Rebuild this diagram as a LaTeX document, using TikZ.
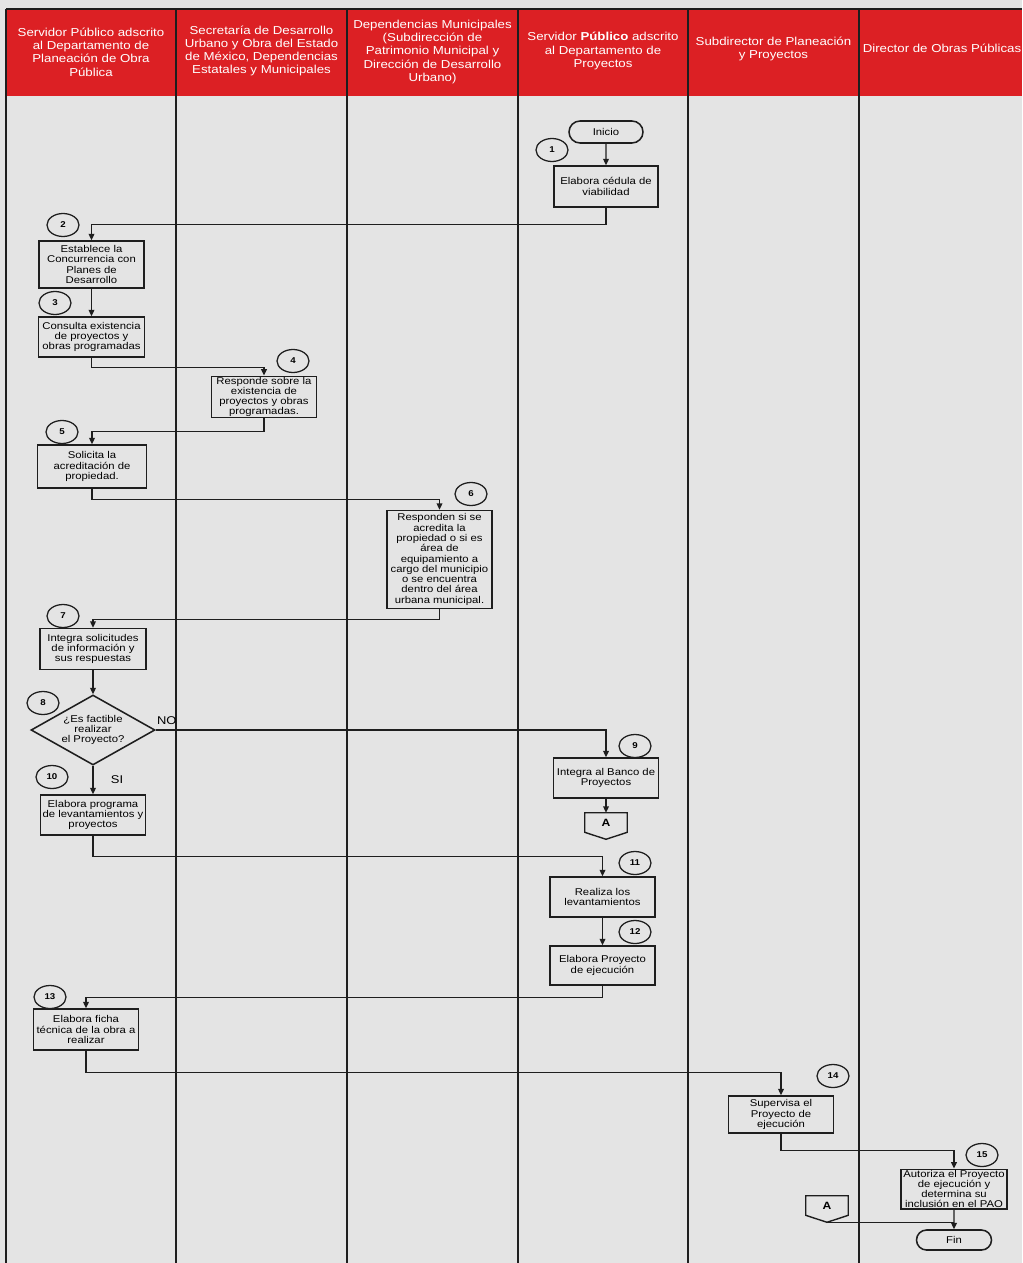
\documentclass[tikz,border=0pt]{standalone}
\usepackage{fontspec}
\newfontfamily\chartfont{Liberation Sans}[FakeStretch=1.15]
\usetikzlibrary{calc, shapes.geometric, shapes.misc, arrows.meta}

% one pixel of the sheet
\def\pxUnit{0.025cm}

\tikzset{
    procbox/.style={draw=lineColour, line width=1.1pt, minimum width=105*\pxUnit, minimum height=40*\pxUnit,
        inner xsep=1pt, inner ysep=0.5pt, align=center, font=\chartfont\fontsize{7}{7.3}\selectfont},
    numtag/.style={ellipse, draw=lineColour, line width=0.9pt, minimum width=32*\pxUnit, minimum height=23*\pxUnit,
        inner sep=0pt, font=\chartfont\bfseries\fontsize{6}{6}\selectfont},
    termbox/.style={rounded rectangle, draw=lineColour, line width=1.1pt, minimum width=74*\pxUnit,
        minimum height=22*\pxUnit, inner sep=0pt, font=\chartfont\fontsize{7}{7.3}\selectfont},
    decbox/.style={diamond, draw=lineColour, line width=1.1pt, aspect=1.77, minimum width=124*\pxUnit,
        minimum height=70*\pxUnit, inner sep=0pt, align=center, font=\chartfont\fontsize{7}{7.3}\selectfont},
    offpage/.style={minimum width=42*\pxUnit, minimum height=19*\pxUnit, inner sep=0pt,
        font=\chartfont\bfseries\fontsize{7.5}{7.5}\selectfont},
    headtext/.style={text=white, align=center, font=\chartfont\fontsize{8.2}{9.4}\selectfont},
    lbl/.style={font=\chartfont\fontsize{8}{8}\selectfont},
    flow/.style={draw=lineColour, line width=1pt, -{Triangle[length=4.5pt,width=4pt]}},
    link/.style={draw=lineColour, line width=1pt},
    lane/.style={draw=lineColour, line width=0.85pt}
}

\begin{document}
\begin{tikzpicture}[x=\pxUnit, y=-\pxUnit]
    % Define colors
    \definecolor{bgColour}{HTML}{E4E4E4}
    \definecolor{headColour}{HTML}{DC2024}
    \definecolor{lineColour}{HTML}{1E1E1E}

    % Sheet
    \useasboundingbox (0,0) rectangle (1022,1263);
    \fill[bgColour] (0,0) rectangle (1022,1263);

    % Header band
    \fill[headColour] (6,9) rectangle (1022,96);
    \draw[lane] (6,9) -- (1022,9);

    % Lanes
    \foreach \x in {6,176,347,518,688,859}
        \draw[lane] (\x,9) -- (\x,1263);

    % Lane titles
    \node[headtext] (lane1) at (91,52) {Servidor Público adscrito\\al Departamento de\\Planeación de Obra\\Pública};
    \node[headtext] (lane2) at (261.5,51) {Secretaría de Desarrollo\\Urbano y Obra del Estado\\de México, Dependencias\\Estatales y Municipales};
    \node[headtext] (lane3) at (432.5,52) {Dependencias Municipales\\(Subdirección de\\Patrimonio Municipal y\\Dirección de Desarrollo\\Urbano)};
    \node[headtext] (lane4) at (603,51) {Servidor \textbf{Público} adscrito\\al Departamento de\\Proyectos};
    \node[headtext] (lane5) at (773.5,49) {Subdirector de Planeación\\y Proyectos};
    \node[headtext] (lane6) at (942,48) {Director de Obras Públicas};

    % Activities
    \node[termbox] (inicio) at (606,132) {Inicio};
    \node[procbox, minimum width=104*\pxUnit, minimum height=41*\pxUnit] (b1) at (606,186.5) {Elabora cédula de\\viabilidad};
    \node[procbox, minimum height=47*\pxUnit] (b2) at (91.5,264.5) {Establece la\\Concurrencia con\\Planes de\\Desarrollo};
    \node[procbox, minimum width=106*\pxUnit] (b3) at (91.5,337) {Consulta existencia\\de proyectos y\\obras programadas};
    \node[procbox] (b4) at (264,397) {Responde sobre la\\existencia de\\proyectos y obras\\programadas.};
    \node[procbox, minimum width=109*\pxUnit, minimum height=43*\pxUnit] (b5) at (92,466.5) {Solicita la\\acreditación de\\propiedad.};
    \node[procbox, minimum height=98*\pxUnit] (b6) at (439.5,559.5) {Responden si se\\acredita la\\propiedad o si es\\área de\\equipamiento a\\cargo del municipio\\o se encuentra\\dentro del área\\urbana municipal.};
    \node[procbox, minimum width=106*\pxUnit, minimum height=41*\pxUnit] (b7) at (93,649) {Integra solicitudes\\de información y\\sus respuestas};
    \node[decbox] (d8) at (93,730) {¿Es factible\\realizar\\el Proyecto?};
    \node[procbox] (b9) at (606,778) {Integra al Banco de\\Proyectos};
    \node[offpage] (A1) at (606,822.5) {A};
    \node[procbox] (b10) at (93,815) {Elabora programa\\de levantamientos y\\proyectos};
    \node[procbox] (b11) at (602.5,897) {Realiza los\\levantamientos};
    \node[procbox, minimum height=39*\pxUnit] (b12) at (602.5,965.5) {Elabora Proyecto\\de ejecución};
    \node[procbox, minimum height=41*\pxUnit] (b13) at (86,1029.5) {Elabora ficha\\técnica de la obra a\\realizar};
    \node[procbox, minimum height=37*\pxUnit] (b14) at (781,1114.5) {Supervisa el\\Proyecto de\\ejecución};
    \node[procbox, minimum width=106*\pxUnit, minimum height=38*\pxUnit] (b15) at (954,1189) {Autoriza el Proyecto\\de ejecución y\\determina su\\inclusión en el PAO};
    \node[offpage] (A2) at (827,1205.5) {A};
    \node[termbox, minimum width=75*\pxUnit, minimum height=20*\pxUnit] (fin) at (954,1240) {Fin};

    % Off-page connector outlines
    \draw[link] (A1.north west) -- (A1.north east) -- (A1.south east) -- ($(A1.south)+(0,7)$) coordinate (A1tip) -- (A1.south west) -- cycle;
    \draw[link] (A2.north west) -- (A2.north east) -- (A2.south east) -- ($(A2.south)+(0,7)$) coordinate (A2tip) -- (A2.south west) -- cycle;

    % Step numbers
    \node[numtag] (n1) at (552,150) {1};
    \node[numtag] (n2) at (63,225) {2};
    \node[numtag] (n3) at (55,303) {3};
    \node[numtag] (n4) at (293,361) {4};
    \node[numtag] (n5) at (62,432) {5};
    \node[numtag] (n6) at (471,494) {6};
    \node[numtag] (n7) at (63,616) {7};
    \node[numtag] (n8) at (43,703) {8};
    \node[numtag] (n9) at (635,746) {9};
    \node[numtag] (n10) at (52,777) {10};
    \node[numtag] (n11) at (635,863) {11};
    \node[numtag] (n12) at (635,932) {12};
    \node[numtag] (n13) at (50,997) {13};
    \node[numtag] (n14) at (833,1076) {14};
    \node[numtag] (n15) at (982,1155) {15};

    % Branch labels
    \node[lbl] (noTag) at ($(d8.east)+(11,-9)$) {NO};
    \node[lbl] (siTag) at ($(d8.south)+(24,14)$) {SI};

    % Connectors
    \draw[flow] (inicio) -- (b1);
    \draw[flow] (b1.south) -- ++(0,17) -| (b2.north);
    \draw[flow] (b2) -- (b3);
    \draw[flow] (b3.south) -- ++(0,10) -| (b4.north);
    \draw[flow] (b4.south) -- ++(0,13) -| (b5.north);
    \draw[flow] (b5.south) -- ++(0,11) -| (b6.north);
    \draw[flow] (b6.south) -- ++(0,10) -| (b7.north);
    \draw[flow] (b7) -- (d8);
    \draw[flow] (d8.east) -| (b9.north);
    \draw[flow] (b9) -- (A1);
    \draw[flow] (d8) -- (b10);
    \draw[flow] (b10.south) -- ++(0,21) -| (b11.north);
    \draw[flow] (b11) -- (b12);
    \draw[flow] (b12.south) -- ++(0,12) -| (b13.north);
    \draw[flow] (b13.south) -- ++(0,22) -| (b14.north);
    \draw[flow] (b14.south) -- ++(0,17) -| (b15.north);
    \draw[flow] (b15) -- (fin);
    \coordinate (finJoin) at ($(fin.north)+(0,-7)$);
    \draw[link] (A2tip) |- (finJoin);

\end{tikzpicture}
\end{document}
